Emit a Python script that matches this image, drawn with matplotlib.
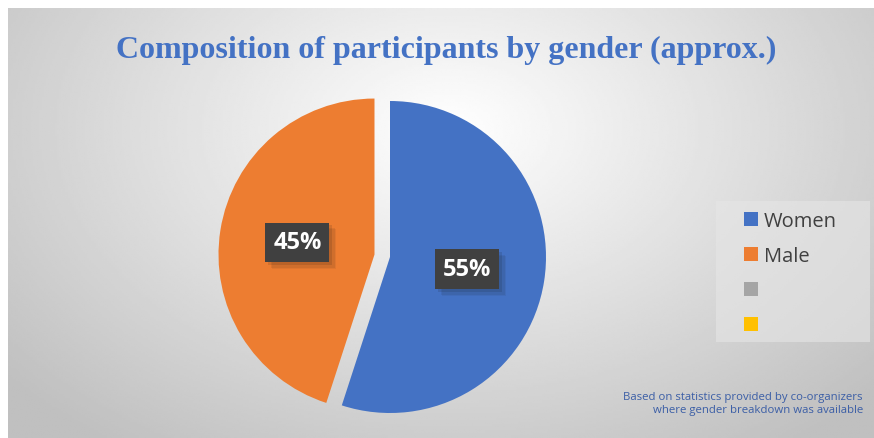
import matplotlib.pyplot as plt
import matplotlib.patheffects as pe
from matplotlib.patches import Patch, Rectangle
import numpy as np

categories = ['Women', 'Male', '', '']
shares = [55, 45]
colors = ['#4472C4', '#ED7D31', '#A5A5A5', '#FFC000']
title = 'Composition of participants by gender (approx.)'
note = 'Based on statistics provided by co-organizers\nwhere gender breakdown was available'

W, H = 874, 439
fig = plt.figure(figsize=(W / 100, H / 100), dpi=100)
ax = fig.add_axes([0, 0, 1, 1])

# chart area: radial grey gradient, lighter near the top middle
gx, gy = np.meshgrid(np.linspace(8, W, 400), np.linspace(0, H - 9, 200))
d = np.sqrt(((gx - 450) / 540) ** 2 + ((gy - (H - 130)) / 360) ** 2)
shade = np.clip(1.0 - 0.23 * d, 0.75, 1)
ax.imshow(shade, cmap='gray', vmin=0, vmax=1, extent=(8, W, 0, H - 9),
          origin='lower', zorder=0, aspect='auto', interpolation='bilinear')

wedges, texts, autotexts = ax.pie(
    shares, colors=colors[:2], startangle=90, counterclock=False,
    explode=[0, 15.7], center=(390, H - 258), radius=156,
    autopct='%.0f%%', pctdistance=0.5,
    textprops=dict(color='white', fontsize=17, fontweight='bold', family='Open Sans'))
for w in wedges:
    w.set_zorder(2)
for t in autotexts:
    t.set_zorder(4)
    t.set_bbox(dict(boxstyle='square,pad=0.33', fc='#404040', ec='none', lw=0))
    # soft drop shadow, built up from a few offset copies
    t.get_bbox_patch().set_path_effects(
        [pe.SimplePatchShadow(offset=(5, -5), alpha=0.06),
         pe.SimplePatchShadow(offset=(4, -4), alpha=0.08),
         pe.SimplePatchShadow(offset=(2, -2), alpha=0.12), pe.Normal()])

ax.text(446, H - 50, title, ha='center', va='center', fontsize=23,
        fontweight='bold', color='#4472C4', family='Liberation Serif')

# legend (office style, with the two unnamed categories)
ax.add_patch(Rectangle((716, H - 343), 154, 141, fc='#e6e6e6', alpha=0.6,
                       ec='none', zorder=1))
handles = [Patch(facecolor=c, edgecolor='none') for c in colors]
leg = fig.legend(handles, categories, loc='upper left',
                 bbox_to_anchor=(744 / W, 1 - 212 / H), frameon=False,
                 prop=dict(family='Open Sans', size=14.5), labelcolor='#404040',
                 handlelength=0.68, handleheight=0.68, handletextpad=0.3,
                 labelspacing=0.74, borderpad=0, borderaxespad=0)

ax.text(863, H - 404, note, ha='right', va='center', multialignment='right',
        fontsize=8.2, color='#3B5EA6', family='Open Sans', linespacing=1.25)

ax.set_xlim(0, W)
ax.set_ylim(0, H)
ax.axis('off')
fig.savefig('out.png', dpi=100)
